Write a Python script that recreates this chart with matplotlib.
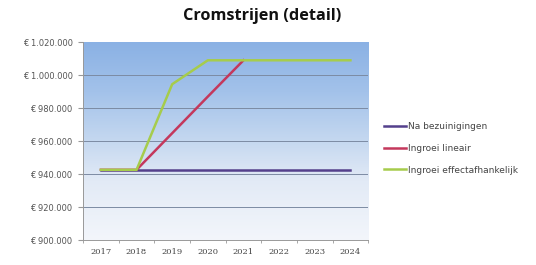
import matplotlib
matplotlib.use("Agg")
import matplotlib.pyplot as plt
import numpy as np
from matplotlib.colors import LinearSegmentedColormap

years = [2017, 2018, 2019, 2020, 2021, 2022, 2023, 2024]
na_bezuinigingen = [942600, 942600, 942600, 942600, 942600, 942600, 942600, 942600]
ingroei_lineair = [942600, 942600, 964800, 987000, 1009000, None, None, None]
ingroei_effect = [942600, 942600, 994500, 1009000, 1009000, 1009000, 1009000, 1009000]
labels = ["Na bezuinigingen", "Ingroei lineair", "Ingroei effectafhankelijk"]
colors = ["#54408C", "#C4385C", "#A6CC4C"]
yticks = [900000, 920000, 940000, 960000, 980000, 1000000, 1020000]

def fmt(v):
    return "€ " + f"{v:,}".replace(",", ".")

fig = plt.figure(figsize=(5.36, 2.65), dpi=100)
ax = fig.add_axes([0.155, 0.094, 0.532, 0.747])
x = np.arange(len(years))
ax.set_xlim(-0.5, len(years) - 0.5)
ax.set_ylim(900000, 1020000)

cmap = LinearSegmentedColormap.from_list(
    "bg", [(0.0, "#F3F6FB"), (0.3, "#E2EAF6"), (0.5, "#C5D8F0"), (0.75, "#A3C2EA"), (1.0, "#8AB1E4")])
grad = np.linspace(0, 1, 256).reshape(-1, 1)
ax.imshow(grad, aspect="auto", cmap=cmap, origin="lower",
          extent=[-0.5, len(years) - 0.5, 900000, 1020000], zorder=0)

for yv in yticks[1:-1]:
    ax.axhline(yv, color="#7C8BA3", lw=0.7, zorder=1)

ax.plot(x, na_bezuinigingen, color=colors[0], lw=1.8, zorder=3, label=labels[0])
lin = np.array([np.nan if v is None else v for v in ingroei_lineair], dtype=float)
ax.plot(x, lin, color=colors[1], lw=1.8, zorder=4, label=labels[1])
ax.plot(x, ingroei_effect, color=colors[2], lw=1.8, zorder=5, label=labels[2])

ax.set_xticks(x)
ax.set_xticklabels([str(y) for y in years], fontsize=6, color="#444444", family="DejaVu Serif")
ax.set_xticks(np.arange(-0.5, len(years)), minor=True)
ax.tick_params(axis="x", which="major", length=0, pad=6)
ax.tick_params(axis="x", which="minor", length=2.5, color="#999999")
ax.set_yticks(yticks)
ax.set_yticklabels([fmt(v) for v in yticks], fontsize=6, color="#555555")
ax.tick_params(axis="y", length=3.6, color="#999999", pad=4)
for s in ["top", "right"]:
    ax.spines[s].set_visible(False)
ax.spines["left"].set_color("#999999")
ax.spines["bottom"].set_color("#999999")
ax.spines["left"].set_linewidth(0.7)
ax.spines["bottom"].set_linewidth(0.7)

fig.text(0.489, 0.938, "Cromstrijen (detail)", ha="center", va="center",
         fontsize=11.7, fontweight="bold", family="Open Sans", color="#111111")

handles, lbls = ax.get_legend_handles_labels()
fig.legend(handles, lbls, loc="center left", bbox_to_anchor=(0.716, 0.44),
           frameon=False, fontsize=6.5, handlelength=2.5, handletextpad=0.2,
           labelspacing=1.4, borderpad=0, borderaxespad=0, labelcolor="#444444")

fig.savefig("out.png", dpi=100)
